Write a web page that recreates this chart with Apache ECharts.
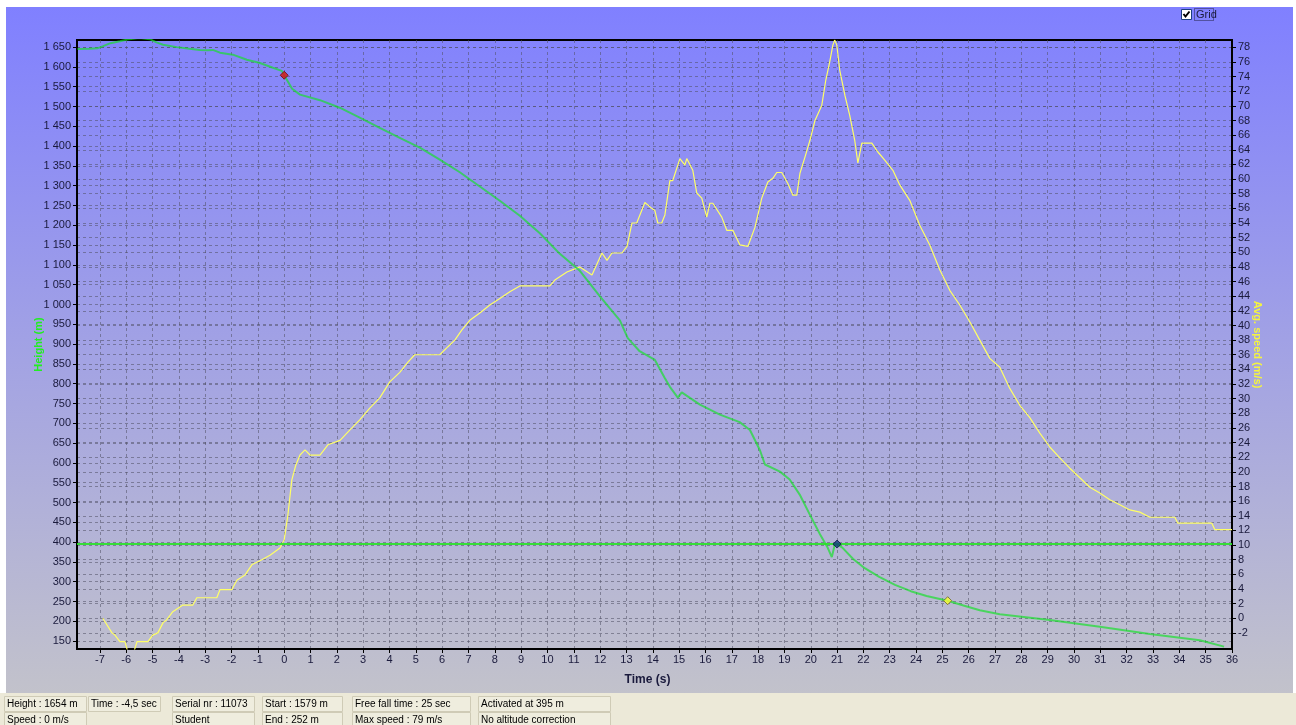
<!DOCTYPE html>
<html>
<head>
<meta charset="utf-8">
<script src="https://cdn.jsdelivr.net/npm/echarts@6/dist/echarts.min.js"></script>
<style>
  html, body { margin: 0; padding: 0; background: #ffffff; }
  #wrap { position: relative; width: 1296px; height: 725px; overflow: hidden; background: #ffffff; }
  #panel { position: absolute; left: 6px; top: 7px; width: 1287px; height: 686px;
           background: linear-gradient(to bottom, #8080ff 0%, #a2a2e4 50%, #c2c2cb 100%); }
  #status { position: absolute; left: 0; top: 693px; width: 1296px; height: 32px; background: #ece9d8; }
  #chart { position: absolute; left: 0; top: 0; width: 1296px; height: 725px; }
</style>
</head>
<body>
<div id="wrap">
  <div id="panel"></div>
  <div id="status"></div>
  <div id="chart"></div>
</div>
<script>
// Jump log: altitude (m) against time (s)
const heightTime = [
  -7.85, -7.4, -7.1, -6.9, -6.6, -6.24, -5.97, -5.5, -5.1, -4.85, -4.6, -4.08, -3.6, -3.2, -2.9, -2.71,
  -2.44, -1.95, -1.42, -0.92, -0.43, -0.09, 0, 0.3, 0.6, 1.36, 2.11, 2.87, 3.63, 4.39, 5.15, 5.91,
  6.67, 7.43, 8.19, 8.95, 9.71, 10.47, 11.23, 12.0, 12.37, 12.75, 13.05, 13.5, 14.08, 14.46, 14.65, 14.95,
  15.1, 15.79, 16.55, 17.3, 17.69, 18.07, 18.26, 18.83, 19.2, 19.58, 19.96, 20.35, 20.65, 20.8, 20.9, 21.0,
  21.2, 21.6, 22.05, 22.6, 23.2, 23.8, 24.4, 25.2, 25.8, 26.42, 27.18, 29.08, 30.98, 32.88, 34.78, 35.7
];
const heightValues = [
  1645, 1646, 1647, 1652, 1660, 1665, 1669, 1673, 1670, 1662, 1656, 1650, 1646, 1643, 1642, 1643,
  1636, 1631, 1618, 1610, 1598, 1590, 1579, 1545, 1530, 1516, 1497, 1472, 1446, 1421, 1396, 1366,
  1334, 1298, 1262, 1224, 1180, 1128, 1085, 1020, 990, 960, 915, 882, 860, 814, 792, 765,
  778, 747, 722, 703, 683, 632, 596, 578, 558, 520, 470, 420, 385, 362, 390, 395,
  386, 358, 334, 312, 292, 276, 264, 252, 240, 228, 218, 203, 186, 168, 152, 136
];

// Average speed (m/s) against time (s)
const speedTime = [
  -6.89, -6.54, -6.43, -6.24, -6.05, -5.94, -5.71, -5.59, -5.18, -4.99, -4.8, -4.6, -4.46, -4.23, -3.85, -3.47,
  -3.32, -2.56, -2.44, -1.99, -1.8, -1.49, -1.23, -0.85, -0.54, -0.16, 0, 0.14, 0.29, 0.44, 0.6, 0.79,
  0.98, 1.36, 1.66, 2.12, 2.49, 2.87, 3.25, 3.63, 4.01, 4.39, 4.7, 4.96, 5.91, 6.22, 6.48, 6.75,
  7.05, 7.43, 7.81, 8.19, 8.57, 8.95, 10.09, 10.28, 10.74, 11.23, 11.69, 12.07, 12.26, 12.45, 12.83, 13.02,
  13.21, 13.39, 13.7, 13.96, 14.08, 14.19, 14.34, 14.46, 14.65, 14.76, 15.03, 15.22, 15.29, 15.52, 15.67, 15.86,
  16.05, 16.17, 16.28, 16.62, 16.81, 17.04, 17.31, 17.61, 17.88, 18.14, 18.37, 18.56, 18.71, 18.9, 19.13, 19.32,
  19.47, 19.59, 19.78, 19.97, 20.16, 20.42, 20.57, 20.72, 20.84, 20.91, 20.99, 21.1, 21.3, 21.48, 21.67, 21.79,
  21.94, 22.32, 22.55, 22.81, 23.12, 23.38, 23.76, 24.14, 24.52, 24.9, 25.28, 25.66, 26.04, 26.42, 26.8, 27.18,
  27.56, 27.94, 28.32, 28.7, 29.08, 29.46, 29.84, 30.22, 30.6, 30.98, 31.36, 31.74, 32.12, 32.5, 32.88, 33.83,
  33.94, 35.23, 35.35, 36
];
const speedValues = [
  0, -2, -2.3, -3.2, -3.2, -4.6, -4.6, -3.2, -3.2, -2.3, -2, -0.6, -0.2, 0.9, 1.8, 1.8,
  2.8, 2.8, 3.9, 3.9, 5.2, 5.9, 7.3, 8, 8.6, 9.6, 10.7, 14.1, 18.9, 20.9, 22.3, 23,
  22.3, 22.3, 23.7, 24.3, 25.7, 27.1, 28.7, 30.1, 32.3, 33.6, 35, 36, 36, 37.1, 38, 39.4,
  40.7, 41.7, 42.8, 43.7, 44.6, 45.4, 45.4, 46.2, 47.3, 48, 46.9, 49.9, 48.9, 49.9, 49.9, 50.8,
  54, 54, 56.8, 56, 55.7, 54, 54, 55.1, 59.8, 59.8, 62.8, 61.9, 62.8, 61.2, 58.1, 57.4,
  54.8, 56.7, 56.7, 54.8, 53, 53, 51, 50.8, 53.4, 57.4, 59.6, 60.1, 60.9, 60.9, 59.4, 57.8,
  57.8, 60.8, 63, 65.3, 68, 70.1, 73.5, 76, 78.3, 79, 78.3, 74.9, 71.4, 68.7, 65.3, 62.2,
  64.9, 64.9, 63.7, 62.6, 61.2, 59.2, 57.1, 53.7, 51, 47.6, 44.8, 42.8, 40.5, 38, 35.5, 34.3,
  31.4, 29.1, 27.4, 25.3, 23.4, 21.9, 20.5, 19.2, 17.9, 17.1, 16.2, 15.5, 14.8, 14.5, 13.8, 13.8,
  13, 13, 12.1, 12.1
];

// Event markers: start of free fall, canopy activation, end of free fall
const eventTimes = [0, 21.0, 25.2];
const eventHeights = [1579, 395, 252];
const activationHeight = 395;

// Axis ticks
const timeTicks = [];
for (let t = -7; t <= 36; t++) timeTicks.push(t);
const heightTicks = [];
for (let h = 150; h <= 1650; h += 50) heightTicks.push(h);
const speedTicks = [];
for (let s = -2; s <= 78; s += 2) speedTicks.push(s);

// Status bar texts
const statusRow1 = ['Height : 1654 m', 'Time : -4,5 sec', 'Serial nr : 11073', 'Start : 1579 m', 'Free fall time : 25 sec', 'Activated at 395 m'];
const statusRow2 = ['Speed : 0 m/s', '', 'Student', 'End : 252 m', 'Max speed : 79 m/s', 'No altitude correction'];

const zip = (xs, ys) => xs.map((x, i) => [x, ys[i]]);
const fmtThousands = v => {
  const s = String(Math.round(v));
  return s.length > 3 ? s.slice(0, s.length - 3) + ' ' + s.slice(-3) : s;
};

const FONT = '"Liberation Sans", Arial, sans-serif';
const LABEL_COLOR = '#1a1a3c';
const gridDash = { color: 'rgba(80,80,100,0.55)', width: 1, type: [3, 3] };

// Status bar boxes
const boxCols = [[4, 86], [88, 160], [172, 254], [262, 342], [352, 470], [478, 610]];
const statusGraphics = [];
[statusRow1, statusRow2].forEach((row, r) => {
  row.forEach((txt, c) => {
    if (!txt) return;
    const [x0, x1] = boxCols[c];
    const y0 = 696 + r * 16;
    statusGraphics.push({
      type: 'rect', shape: { x: x0 + 0.5, y: y0 + 0.5, width: x1 - x0, height: 15 },
      style: { fill: '#efedde', stroke: '#cfcbb6', lineWidth: 1 }, silent: true
    });
    statusGraphics.push({
      type: 'text', x: x0 + 3, y: y0 + 8,
      style: { text: txt, font: '10px ' + FONT, fill: '#000000', verticalAlign: 'middle' },
      silent: true
    });
  });
});

// "Grid" checkbox in the top right corner
const checkboxGraphics = [
  { type: 'rect', shape: { x: 1181.5, y: 9.5, width: 10, height: 10 }, style: { fill: '#ffffff', stroke: '#1c3f80', lineWidth: 1 } },
  { type: 'polyline', shape: { points: [[1183.5, 14], [1185.5, 16.5], [1189.5, 11.5]] }, style: { stroke: '#000000', lineWidth: 2, fill: null } },
  { type: 'rect', shape: { x: 1194.5, y: 8.5, width: 19, height: 12 }, style: { fill: null, stroke: '#222244', lineWidth: 1, lineDash: [1, 1] } },
  { type: 'text', x: 1196, y: 15, style: { text: 'Grid', font: '11px ' + FONT, fill: '#1a1a3c', verticalAlign: 'middle' } }
];

const chart = echarts.init(document.getElementById('chart'), null, { renderer: 'canvas' });
chart.setOption({
  backgroundColor: 'transparent',
  animation: false,
  grid: { left: 77, right: 64, top: 40, bottom: 76, show: true, borderColor: '#000000', borderWidth: 2, backgroundColor: 'transparent' },
  xAxis: {
    type: 'value', min: -7.87, max: 36,
    name: 'Time (s)', nameLocation: 'middle', nameGap: 25, nameMoveOverlap: false,
    nameTextStyle: { fontFamily: FONT, fontSize: 12, fontWeight: 'bold', color: LABEL_COLOR, padding: [0, 14, 0, 0] },
    axisLine: { show: true, onZero: false, lineStyle: { color: '#000000', width: 2 } },
    axisTick: { show: true, length: 4, customValues: timeTicks, lineStyle: { color: '#000000' } },
    axisLabel: { customValues: timeTicks, margin: 5, fontFamily: FONT, fontSize: 11, color: LABEL_COLOR },
    splitLine: { show: true, lineStyle: gridDash }
  },
  yAxis: [
    {
      type: 'value', position: 'left', min: 130, max: 1668,
      name: 'Height (m)', nameLocation: 'middle', nameGap: 33, nameMoveOverlap: false,
      nameTextStyle: { fontFamily: FONT, fontSize: 11, fontWeight: 'bold', color: '#22ee22' },
      axisLine: { show: true, onZero: false, lineStyle: { color: '#000000', width: 2 } },
      axisTick: { show: true, length: 4, customValues: heightTicks, lineStyle: { color: '#000000' } },
      axisLabel: { customValues: heightTicks, formatter: fmtThousands, margin: 6, fontFamily: FONT, fontSize: 11, color: LABEL_COLOR },
      splitLine: { show: true, lineStyle: gridDash }
    },
    {
      type: 'value', position: 'right', min: -4.2, max: 79,
      name: 'Avg. speed (m/s)', nameLocation: 'middle', nameGap: 20, nameRotate: -90, nameMoveOverlap: false,
      nameTextStyle: { fontFamily: FONT, fontSize: 11, fontWeight: 'bold', color: '#f4f440' },
      axisLine: { show: true, onZero: false, lineStyle: { color: '#000000', width: 2 } },
      axisTick: { show: true, length: 4, customValues: speedTicks, lineStyle: { color: '#000000' } },
      axisLabel: { customValues: speedTicks, margin: 6, fontFamily: FONT, fontSize: 11, color: LABEL_COLOR },
      splitLine: { show: true, lineStyle: gridDash }
    }
  ],
  graphic: { elements: statusGraphics.concat(checkboxGraphics) },
  series: [
    {
      name: 'Avg. speed', type: 'line', yAxisIndex: 1, z: 3,
      data: zip(speedTime, speedValues), showSymbol: false, symbol: 'none',
      lineStyle: { color: '#ffff66', width: 1.2 }, clip: true
    },
    {
      name: 'Height', type: 'line', yAxisIndex: 0, z: 4,
      data: zip(heightTime, heightValues), showSymbol: false, symbol: 'none',
      lineStyle: { color: 'rgba(20,225,40,0.68)', width: 2 }, clip: true,
      markLine: {
        silent: true, symbol: 'none', label: { show: false },
        lineStyle: { color: 'rgba(40,225,40,0.9)', width: 2, type: 'solid' },
        data: [{ yAxis: activationHeight }]
      }
    },
    {
      name: 'Events', type: 'scatter', yAxisIndex: 0, z: 6,
      symbol: 'diamond', symbolSize: 8,
      data: [
        { value: [eventTimes[0], eventHeights[0]], itemStyle: { color: '#dd1111', borderColor: '#661111', borderWidth: 1 } },
        { value: [eventTimes[1], eventHeights[1]], itemStyle: { color: '#103a7a', borderColor: '#0a1a40', borderWidth: 1 } },
        { value: [eventTimes[2], eventHeights[2]], itemStyle: { color: '#ffff33', borderColor: '#666622', borderWidth: 1 } }
      ]
    }
  ]
});
</script>
</body>
</html>
